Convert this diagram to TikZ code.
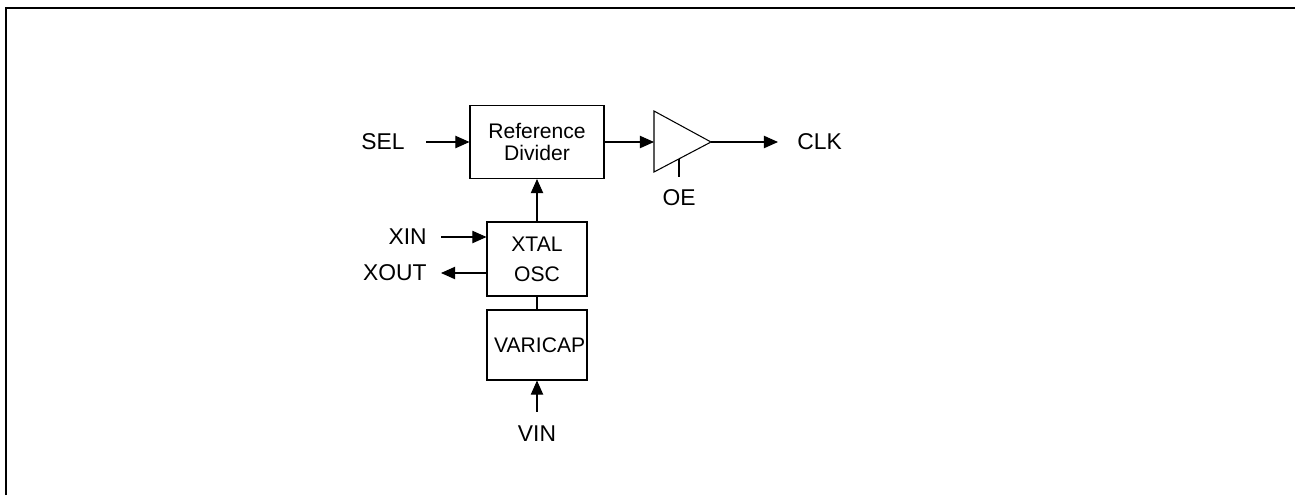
\documentclass[tikz,border=0pt]{standalone}
\usepackage{fontspec}
\setmainfont{Liberation Sans}
\usetikzlibrary{arrows.meta,calc}

\begin{document}
\begin{tikzpicture}[x=0.02cm, y=-0.02cm,
    blk/.style={draw, line width=0.6pt, inner sep=0pt, align=center, font=\fontsize{12}{13}\selectfont},
    lbl/.style={inner sep=0pt, font=\fontsize{13}{15}\selectfont},
    sig/.style={line width=0.6pt, -{Triangle[length=8pt, width=7pt]}},
    wire/.style={line width=0.6pt},
]
\useasboundingbox (0,0) rectangle (1295,495);
\draw[line width=1.1pt] (6,495) |- (1295,8);

\node[blk, minimum width=2.68cm, minimum height=1.46cm] (refdiv) at (537,142) {Reference\\Divider};
\node[blk, minimum width=2cm, minimum height=1.48cm, font=\fontsize{12}{17}\selectfont] (xtal) at (537,259) {XTAL\\OSC};
\node[blk, minimum width=2cm, minimum height=1.4cm] (varicap) at (537,345) {\hspace{3pt}VARICAP};

\coordinate (ampin) at (654,142);
\coordinate (ampout) at (711,142);
\coordinate (oetap) at (679,158.5);
\draw[wire] (654,111) -- (ampout) -- (654,172) -- cycle;

\node[lbl, anchor=east] (sel) at (405,142) {SEL};
\node[lbl, anchor=west] (clk) at (797,142) {CLK};
\node[lbl] (oe) at (679,198) {OE};
\node[lbl, anchor=east] (xin) at (427,237) {XIN};
\node[lbl, anchor=east] (xout) at (427,273) {XOUT};
\node[lbl] (vin) at (537,434) {VIN};

\draw[sig] ($(sel.east)+(21,0)$) -- (refdiv.west);
\draw[sig] (refdiv.east) -- (ampin);
\draw[sig] (ampout) -- ($(clk.west)+(-19,0)$);
\draw[wire] (oetap) -- ++(0,18);
\draw[sig] (xtal.north) -- (refdiv.south);
\draw[sig] ($(xin.east)+(14,0)$) -- (xtal.west |- xin.east);
\draw[sig] (xtal.west |- xout.east) -- ($(xout.east)+(14,0)$);
\draw[wire] (xtal.south) -- (varicap.north);
\draw[sig] ($(vin.north)+(0,-14)$) -- (varicap.south);
\end{tikzpicture}
\end{document}
